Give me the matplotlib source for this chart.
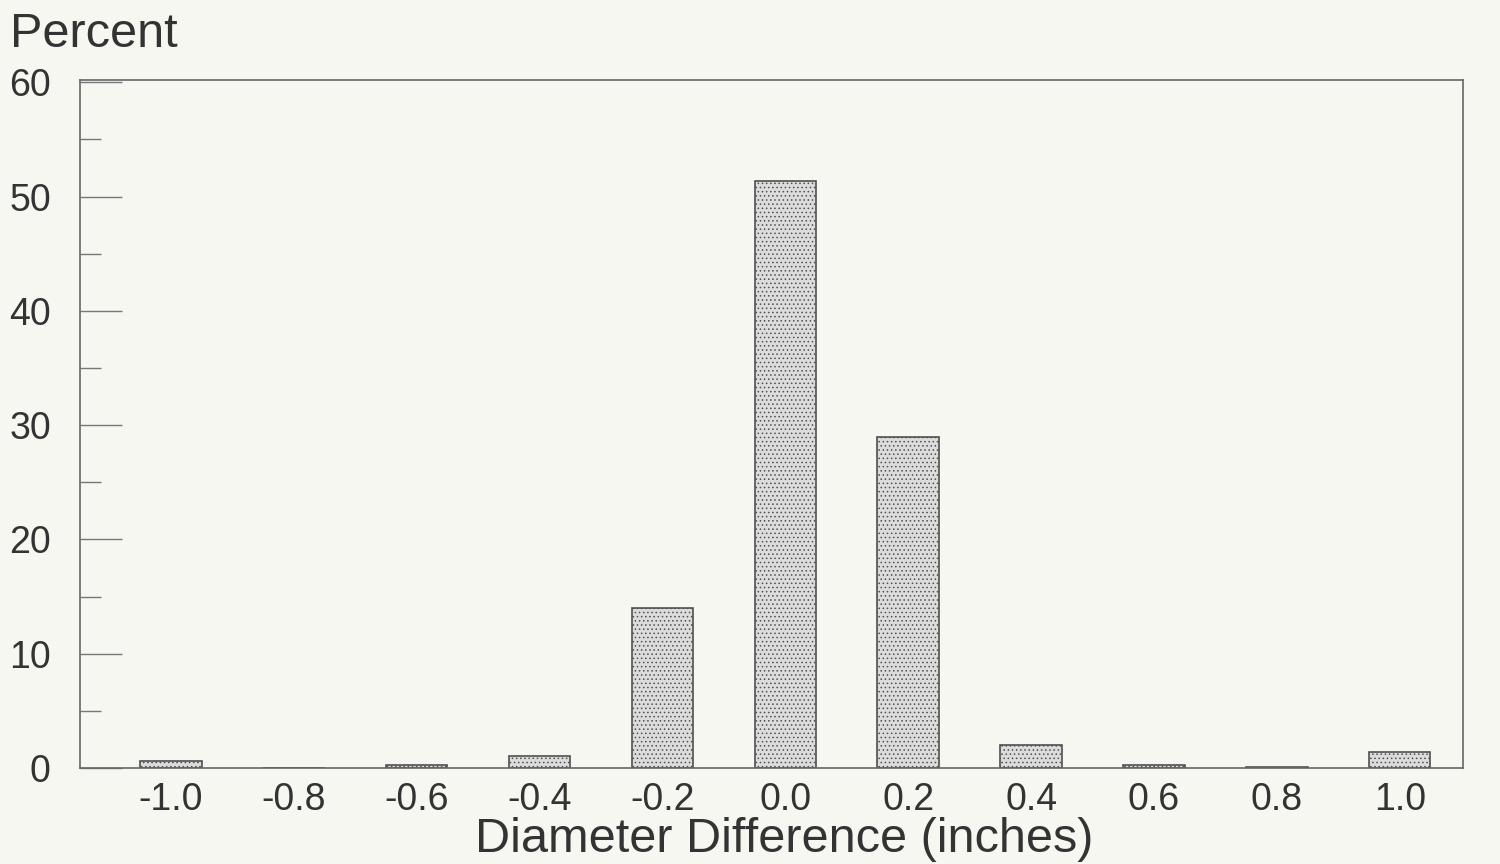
import numpy as np
import matplotlib.pyplot as plt

plt.rcParams['font.family'] = ['Liberation Sans', 'DejaVu Sans']
plt.rcParams['hatch.linewidth'] = 0.6
plt.rcParams['hatch.color'] = '#a0a0a0'

diff = [-1.0, -0.8, -0.6, -0.4, -0.2, 0.0, 0.2, 0.4, 0.6, 0.8, 1.0]
percent = [0.6, 0.0, 0.25, 1.05, 14.0, 51.4, 29.0, 2.0, 0.25, 0.1, 1.4]
xtick_labels = ['-1.0', '-0.8', '-0.6', '-0.4', '-0.2', '0.0', '0.2', '0.4', '0.6', '0.8', '1.0']

bg = '#f7f7f2'
fig = plt.figure(figsize=(15, 8.64), dpi=100, facecolor=bg)
ax = fig.add_axes([80/1500, 1 - 768/864, (1463-80)/1500, (768-80)/864])
ax.set_facecolor(bg)

ax.bar(diff, percent, width=0.1, color='#dcdcdc', edgecolor='#505050',
       linewidth=1.2, hatch='....')

ax.set_xlim(-1.148, 1.103)
ax.set_ylim(0, 60.2)
ax.set_xticks(diff)
ax.set_xticklabels(xtick_labels)
ax.set_yticks(np.arange(0, 61, 10))
ax.set_yticks(np.arange(5, 60, 10), minor=True)
ax.tick_params(axis='x', length=0, labelsize=27, pad=10, colors='#333333')
ax.tick_params(axis='y', which='major', direction='in', length=30, width=1,
               labelsize=27, pad=21, colors='#777777', labelcolor='#333333')
ax.tick_params(axis='y', which='minor', direction='in', length=15, width=1,
               colors='#777777')
for side in ['left', 'right', 'top', 'bottom']:
    ax.spines[side].set_color('#666666')
    ax.spines[side].set_linewidth(1.2)

fig.text(784/1500, 1 - 852/864, 'Diameter Difference (inches)', fontsize=35,
         color='#333333', ha='center', va='baseline')
fig.text(10/1500, 1 - 47/864, 'Percent', fontsize=35, color='#333333',
         va='baseline')

fig.savefig('out.png', dpi=100, facecolor=bg)
